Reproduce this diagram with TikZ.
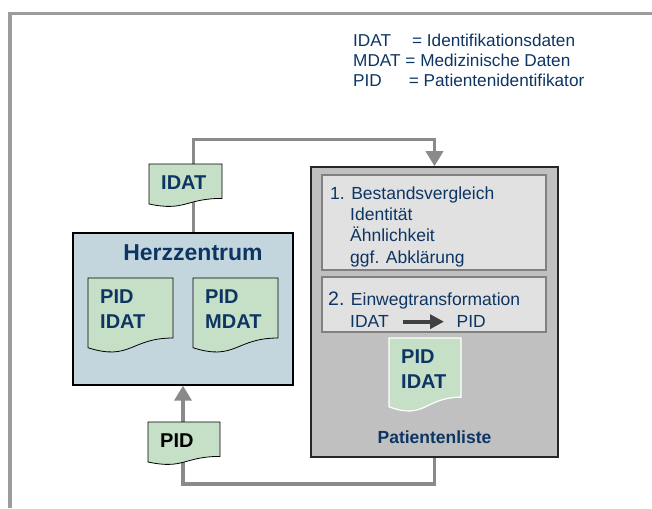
\documentclass[tikz,border=0pt]{standalone}
\usepackage{fontspec}
\setmainfont{Liberation Sans}
\usepackage{xcolor}
\usepackage{tikz}
\usetikzlibrary{arrows.meta,positioning,calc}
\definecolor{navy}{HTML}{0D3563}
\definecolor{herzbg}{HTML}{C3D6DE}
\definecolor{listbg}{HTML}{C0C0C0}
\definecolor{stepbg}{HTML}{E1E1E1}
\definecolor{stepline}{HTML}{808080}
\definecolor{docbg}{HTML}{C6E0C8}
\definecolor{conngray}{HTML}{8A8A8A}
\definecolor{framegray}{HTML}{9C9C9C}
\definecolor{trafogray}{HTML}{404040}

% Dokument-Symbol mit welligem Unterrand: [Stil]{Name}{x}{y}{Breite}{Hoehe}{Text}
\newcommand\docnode[7][]{%
  \filldraw[docshape,#1] (#3,#4) -- ++(#5,0) -- ++(0,0.80*#6)
    .. controls +(-0.5*#5,0) and +(0.5*#5,0.18*#6) .. (#3,#4+0.93*#6) -- cycle;
  \node[doctext, anchor=north west] (#2) at (#3+12,#4+12) {#7};}

\begin{document}
\begin{tikzpicture}[x=1pt, y=-1pt,
  frame/.style={draw=framegray, line width=3.5pt},
  conn/.style={draw=conngray, line width=3.5pt, -{Triangle[length=15pt,width=17pt]}},
  herzbox/.style={draw=black, line width=1.3pt, fill=herzbg, minimum width=220pt, minimum height=152pt},
  listbox/.style={draw=black!85, line width=1.6pt, fill=listbg, minimum width=247pt, minimum height=290pt},
  stepbox/.style={draw=stepline, line width=1.3pt, fill=stepbg, minimum width=224pt},
  docshape/.style={draw=black, line width=0.8pt, fill=docbg},
  doctext/.style={font=\fontsize{20}{24.5}\selectfont\bfseries, text=navy, align=left, inner sep=0pt},
  txt/.style={font=\fontsize{17.5}{21.3}\selectfont, text=navy, align=left, inner sep=0pt},
  title/.style={font=\fontsize{23}{27}\selectfont\bfseries, text=navy, inner sep=0pt},
  trafo/.style={draw=trafogray, line width=4pt, -{Triangle[length=14pt,width=14pt]}, shorten <=14pt, shorten >=12.5pt},
]
  \useasboundingbox (0,0) rectangle (652,508);
  \draw[frame] (10,508) -- (10,13.5) -- (652,13.5);

  % Legende
  \node[txt, anchor=north west, font=\fontsize{17.2}{20}\selectfont] (legende) at (353,33.5)
    {IDAT\hspace*{21pt}= Identifikationsdaten\\MDAT = Medizinische Daten\\PID\hspace*{27pt}= Patientenidentifikator};

  % Einrichtungen
  \node[herzbox, label={[title, anchor=north, xshift=10pt, yshift=-12.5pt]north:Herzzentrum}] (herz) at (183,309) {};
  \node[listbox, label={[txt, font=\fontsize{17.5}{20}\selectfont\bfseries, anchor=south, yshift=14.3pt]south:Patientenliste}] (liste) at (434.5,312) {};

  % Arbeitsschritte der Patientenliste
  \node[stepbox, minimum height=95pt] (vergleich) at (434,222.5) {};
  \node[stepbox, minimum height=55pt] (einweg)    at (434,304.5) {};
  \node[txt, anchor=north west] (vergleichtext) at (330,186.5)
    {1. Bestandsvergleich\\\hspace*{20pt}Identität\\\hspace*{20pt}Ähnlichkeit\\\hspace*{20pt}ggf. Abklärung};
  \node[txt, anchor=base west] (einwegtext) at (328,305.7) {{\fontsize{19.5}{21}\selectfont 2.} Einwegtransformation};
  \node[txt, anchor=base west] (tidat) at (350,327.7) {IDAT};
  \node[txt, anchor=base west] (tpid)  at (456.5,327.7) {PID};
  \draw[trafo] (tidat) -- (tpid);

  % Datenfluss
  \draw[conn] ([xshift=10.5pt]herz.north) -- ++(0,-93) -| (liste.north);
  \draw[conn] (liste.south) -- ++(0,26) -| (herz.south);

  % Dokumente
  \docnode{idat}{149}{164}{73}{43}{IDAT}
  \docnode{pid}{148}{422}{72}{43}{\color{black}PID}
  \docnode{herzpi}{88}{278}{85}{75}{PID\\IDAT}
  \docnode{herzpm}{193}{278}{85}{75}{PID\\MDAT}
  \docnode[draw=white, line width=1.2pt]{listepi}{389}{338}{72}{74}{PID\\IDAT}
\end{tikzpicture}
\end{document}
